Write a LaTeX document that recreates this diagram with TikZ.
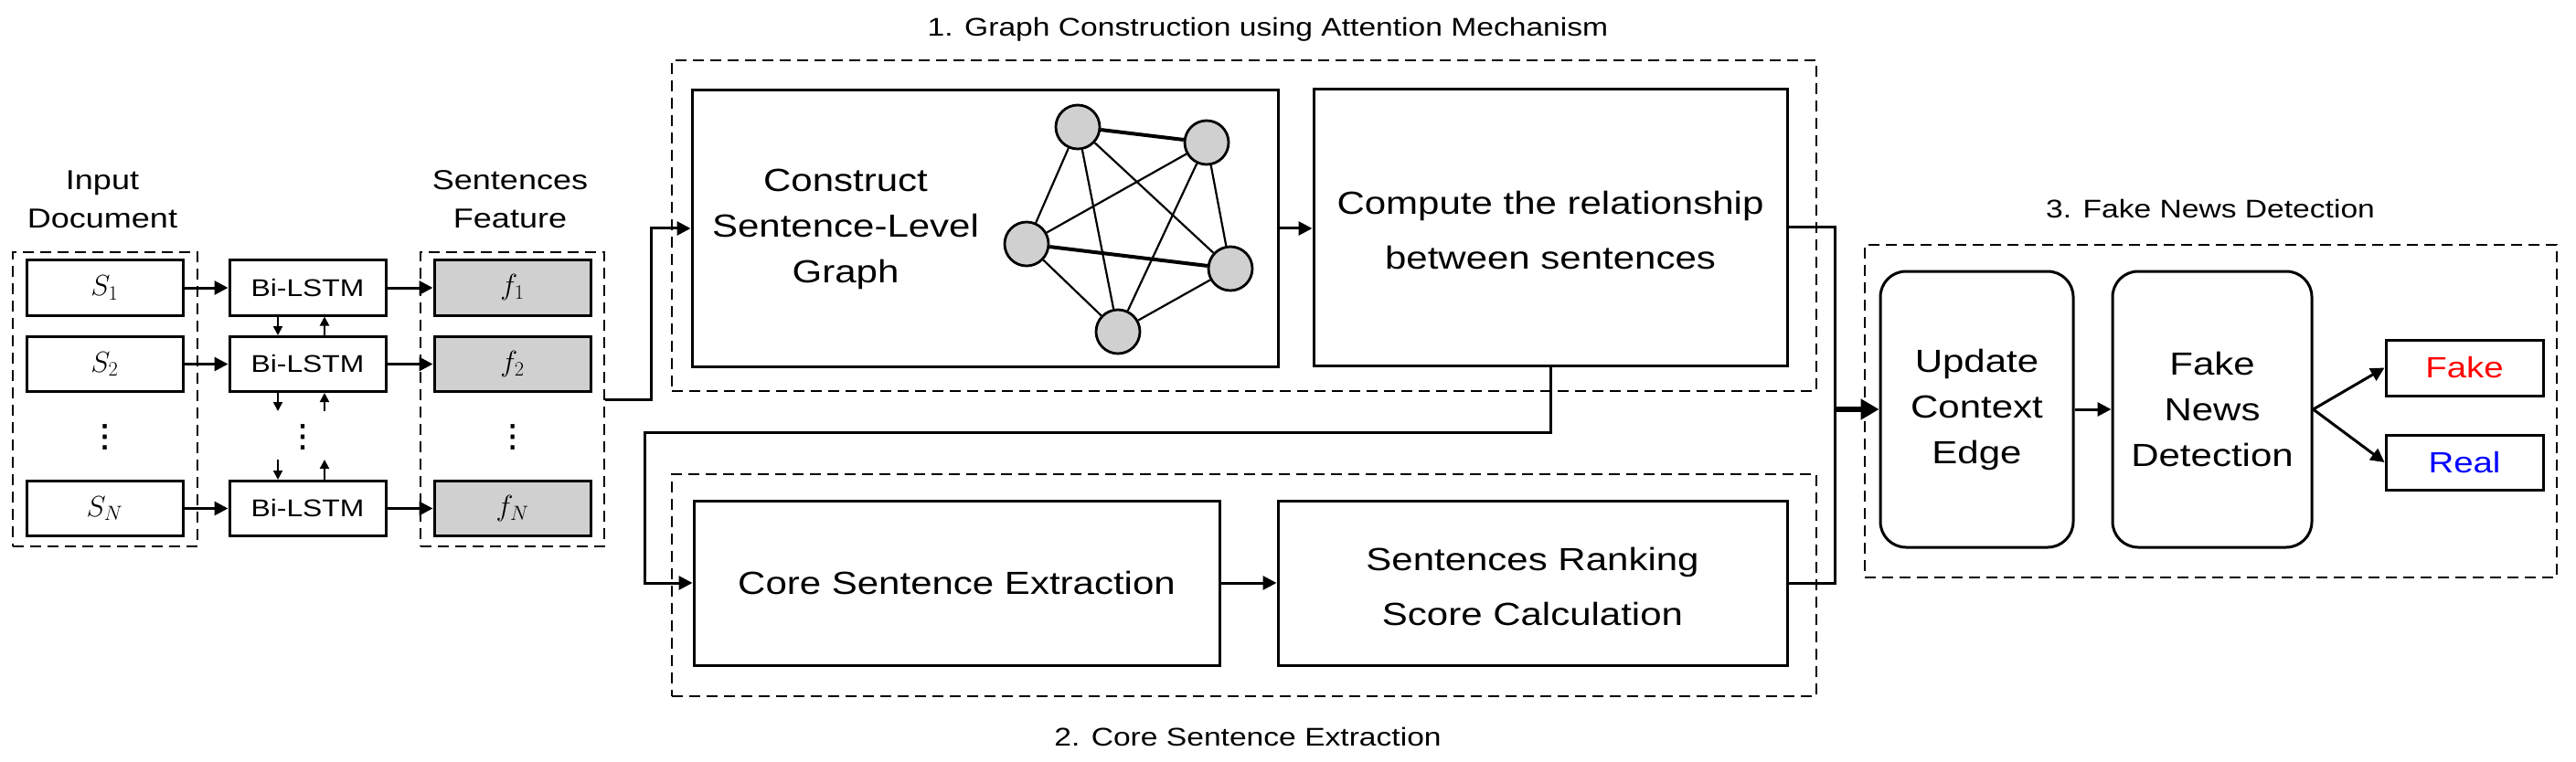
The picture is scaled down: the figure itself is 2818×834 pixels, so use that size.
\RequirePackage{fix-cm}
\documentclass[tikz,border=0pt]{standalone}
\usepackage[no-math]{fontspec}
\setmainfont{Liberation Sans}[FakeStretch=1.2]
\newfontfamily\dejavu{DejaVu Sans}[FakeBold=1.5]
\usetikzlibrary{arrows.meta,calc}
\definecolor{nodegray}{HTML}{D0D0D0}
\definecolor{fakered}{HTML}{FF0000}
\definecolor{realblue}{HTML}{0000FF}
\begin{document}
\begin{tikzpicture}[x=1pt,y=-1pt,
  box/.style={draw, line width=3pt, inner sep=0pt, align=center},
  rbox/.style={box, rounded corners=28pt},
  grp/.style={draw, line width=2.8pt, dash pattern=on 12pt off 7pt, inner sep=0pt},
  conn/.style={line width=3pt, -{Triangle[length=15pt,width=15pt]}},
  plain/.style={line width=3pt},
  small/.style={line width=2pt, -{Triangle[length=10pt,width=10pt]}},
  big/.style={line width=6pt, -{Triangle[length=20pt,width=22pt]}},
  lbl/.style={font=\fontsize{35}{50}\selectfont, align=center},
  lblw/.style={font=\fontsize{35}{60}\selectfont, align=center},
  head/.style={font=\fontsize{30}{42}\selectfont, align=center},
  ttl/.style={font=\fontsize{28}{34}\selectfont},
  sbox/.style={box, minimum width=171, minimum height=60, font=\fontsize{32}{38}\selectfont},
  lstm/.style={box, minimum width=171, minimum height=60, font=\fontsize{26.5}{30}\selectfont},
  fbox/.style={sbox, fill=nodegray},
  dots/.style={font=\dejavu\fontsize{34}{40}\selectfont, inner sep=0pt},
  gnode/.style={circle, draw, fill=nodegray, line width=2.8pt, minimum size=48pt, inner sep=0pt},
  gedge/.style={line width=2.2pt},
  gedgeb/.style={line width=4pt},
  outbox/.style={box, minimum width=172, minimum height=60, font=\fontsize{32}{38}\selectfont}
]
\useasboundingbox (0,0) rectangle (2818,834);

% ---- input side
\node[head] (inhead) at (112,218) {Input\\Document};
\node[head] (fhead) at (558,218) {Sentences\\Feature};
\node[grp, minimum width=202, minimum height=322] (indash) at (115,437) {};
\node[grp, minimum width=201, minimum height=322] (fdash) at (560.5,437) {};

\node[sbox] (s1) at (114.5,315) {$S_1$};
\node[sbox] (s2) at (114.5,398.5) {$S_2$};
\node[dots] (sdots) at (114.5,478) {⋮};
\node[sbox] (sn) at (114.5,556.5) {$S_N$};

\node[lstm] (b1) at (336.5,315) {Bi-LSTM};
\node[lstm] (b2) at (336.5,398.5) {Bi-LSTM};
\node[dots] (bdots) at (331,478) {⋮};
\node[lstm] (bn) at (336.5,556.5) {Bi-LSTM};

\node[fbox] (f1) at (560.5,315) {$f_1$};
\node[fbox] (f2) at (560.5,398.5) {$f_2$};
\node[dots] (fdots) at (560.5,478) {⋮};
\node[fbox] (fn) at (560.5,556.5) {$f_N$};

\foreach \i in {1,2,n} {
  \draw[conn] (s\i.east) -- (b\i.west);
  \draw[conn] (b\i.east) -- (f\i.west);
}
\coordinate (b2low) at (336.5,450);
\coordinate (bnhigh) at (336.5,503);
\draw[small] ($(b1.south)+(-32.5,0)$) -- ($(b2.north)+(-32.5,0)$);
\draw[small] ($(b2.north)+(18.5,0)$) -- ($(b1.south)+(18.5,0)$);
\draw[small] ($(b2.south)+(-32.5,0)$) -- ($(b2low)+(-32.5,0)$);
\draw[small] ($(b2low)+(18.5,0)$) -- ($(b2.south)+(18.5,0)$);
\draw[small] ($(bnhigh)+(-32.5,0)$) -- ($(bn.north)+(-32.5,0)$);
\draw[small] ($(bn.north)+(18.5,0)$) -- ($(bnhigh)+(18.5,0)$);

% ---- group 1
\node[ttl] (t1) at (1387,32) {1. Graph Construction using Attention Mechanism};
\node[grp, minimum width=1252, minimum height=362] (g1dash) at (1361,247) {};
\node[box, minimum width=641, minimum height=302] (construct) at (1077.5,250) {};
\node[lbl] (constructtxt) at (925,251) {Construct\\Sentence-Level\\Graph};
\node[box, minimum width=518, minimum height=302] (compute) at (1696,249) {};
\node[lblw] (computetxt) at (1696,252) {Compute the relationship\\between sentences};

\node[gnode] (n1) at (1179,139) {};
\node[gnode] (n2) at (1320,156) {};
\node[gnode] (n3) at (1123,267) {};
\node[gnode] (n4) at (1346,294) {};
\node[gnode] (n5) at (1223,363) {};
\draw[gedgeb] (n1) -- (n2);
\draw[gedgeb] (n3) -- (n4);
\draw[gedge] (n1) -- (n3);
\draw[gedge] (n1) -- (n4);
\draw[gedge] (n1) -- (n5);
\draw[gedge] (n2) -- (n3);
\draw[gedge] (n2) -- (n4);
\draw[gedge] (n2) -- (n5);
\draw[gedge] (n3) -- (n5);
\draw[gedge] (n4) -- (n5);

% ---- group 2
\node[ttl] (t2) at (1365,806) {2. Core Sentence Extraction};
\node[grp, minimum width=1252, minimum height=243] (g2dash) at (1361,640.5) {};
\node[box, minimum width=575, minimum height=180, font=\fontsize{35}{50}\selectfont] (core) at (1046.5,638) {Core Sentence Extraction};
\node[box, minimum width=557, minimum height=180] (ranking) at (1676.5,638) {};
\node[lblw] (rankingtxt) at (1676.5,642) {Sentences Ranking\\Score Calculation};

% ---- group 3
\node[ttl] (t3) at (2418,228) {3. Fake News Detection};
\node[grp, minimum width=757, minimum height=364] (g3dash) at (2418.5,450) {};
\node[rbox, minimum width=211, minimum height=302, font=\fontsize{35}{50}\selectfont] (update) at (2162.5,448) {Update\\Context\\Edge};
\node[rbox, minimum width=218, minimum height=302, font=\fontsize{35}{50}\selectfont] (fnd) at (2420,448) {Fake\\News\\Detection};
\node[outbox, text=fakered, minimum height=61] (fake) at (2696,402.5) {Fake};
\node[outbox, text=realblue] (real) at (2696,506) {Real};

% ---- connectors between groups
\draw[conn] (fdash.east) -- ++(50,0) |- (construct.west);
\draw[conn] (construct.east) -- (construct.east -| compute.west);
\coordinate (c1) at (705,473);
\draw[conn] (compute.south) |- (c1) |- (core.west);
\draw[conn] (core.east) -- (ranking.west);
\coordinate (j) at (2007,448);
\draw[plain] (compute.east) -| (j);
\draw[plain] (ranking.east) -| (j);
\draw[big] (j) -- (update.west);
\draw[conn] (update.east) -- (fnd.west);
\draw[conn] (fnd.east) -- (fake.west);
\draw[conn] (fnd.east) -- (real.west);
\end{tikzpicture}
\end{document}
